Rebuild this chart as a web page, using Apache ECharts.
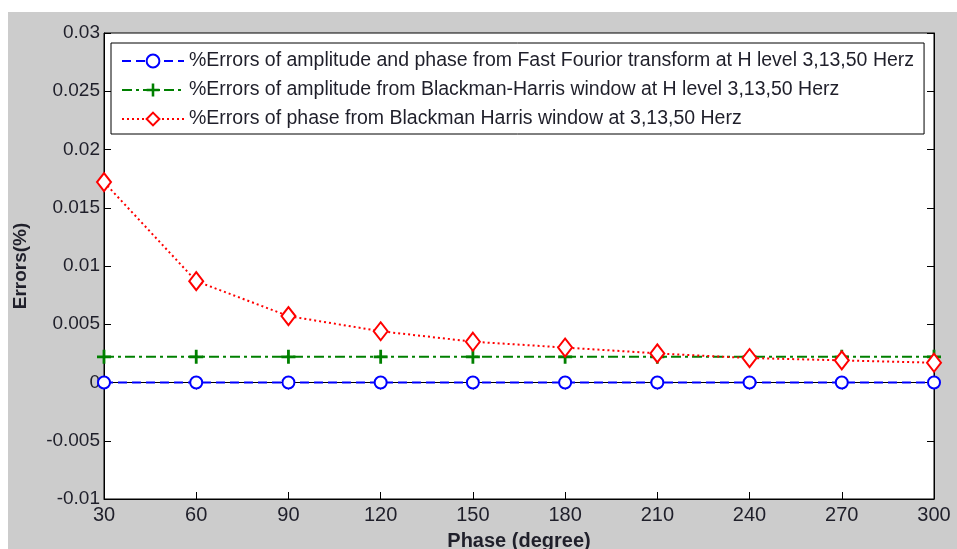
<!DOCTYPE html>
<html>
<head>
<meta charset="utf-8">
<script src="https://cdn.jsdelivr.net/npm/echarts@6/dist/echarts.min.js"></script>
<style>
  html, body { margin: 0; padding: 0; background: #fff; }
  #main { width: 957px; height: 549px; }
</style>
</head>
<body>
<div id="main"></div>
<script>
// 数据
const phases = [30, 60, 90, 120, 150, 180, 210, 240, 270, 300];
const fftErr = [0, 0, 0, 0, 0, 0, 0, 0, 0, 0];
const bhAmpErr = [0.0022, 0.0022, 0.0022, 0.0022, 0.0022, 0.0022, 0.0022, 0.0022, 0.0022, 0.0022];
const bhPhaseErr = [0.0172, 0.0087, 0.0057, 0.0044, 0.0035, 0.0030, 0.0025, 0.0021, 0.0019, 0.0017];
const names = [
  "%Errors of amplitude and phase from Fast Fourior transform at H level 3,13,50 Herz",
  "%Errors of amplitude from Blackman-Harris window at H level 3,13,50 Herz",
  "%Errors of phase from Blackman Harris window at 3,13,50 Herz"
];

const txt = "#1f1f2a";
const font = "'Liberation Sans', Arial, sans-serif";
const plus = "path://M4,0H6V4H10V6H6V10H4V6H0V4H4Z";

const pairs = (ys) => phases.map((x, i) => [x, ys[i]]);

const chart = echarts.init(document.getElementById("main"));

// 上、右两侧只画刻度
const tickOnly = {
  axisLine: { show: true, lineStyle: { color: "#000", width: 1 } },
  axisTick: { show: true, inside: true, length: 7, lineStyle: { color: "#000" } },
  axisLabel: { show: false },
  splitLine: { show: false }
};

chart.setOption({
  animation: false,
  textStyle: { fontFamily: font },
  graphic: [{
    type: "rect",
    z: -100,
    shape: { x: 8, y: 12, width: 949, height: 537 },
    style: { fill: "#cccccc" }
  }],
  grid: {
    left: 104, right: 23, top: 33, bottom: 50,
    outerBoundsMode: "none",
    containLabel: false,
    show: true, backgroundColor: "#fff", borderColor: "#000", borderWidth: 1
  },
  legend: {
    orient: "vertical",
    left: 111, top: 43,
    data: names,
    backgroundColor: "#fff",
    borderColor: "#000",
    borderWidth: 1,
    borderRadius: 0,
    padding: [8, 10, 5, 10],
    itemWidth: 62,
    itemHeight: 16,
    itemGap: 9,
    textStyle: { color: txt, fontSize: 19.5, fontFamily: font },
    selectedMode: false
  },
  xAxis: [{
    type: "value",
    min: 30, max: 300, interval: 30,
    name: "Phase (degree)",
    nameLocation: "middle",
    nameGap: 32,
    nameTextStyle: { color: txt, fontSize: 20, fontWeight: "bold" },
    axisLine: { show: true, onZero: false, lineStyle: { color: "#000", width: 1 } },
    axisTick: { show: true, inside: true, length: 7, lineStyle: { color: "#000" } },
    axisLabel: { color: txt, fontSize: 20, margin: 6 },
    splitLine: { show: false }
  }, Object.assign({
    type: "value", position: "top", min: 30, max: 300, interval: 30
  }, tickOnly)],
  yAxis: [{
    type: "value",
    min: -0.01, max: 0.03, interval: 0.005,
    name: "Errors(%)",
    nameLocation: "middle",
    nameGap: 74,
    nameTextStyle: { color: txt, fontSize: 19, fontWeight: "bold" },
    axisLine: { show: true, onZero: false, lineStyle: { color: "#000", width: 1 } },
    axisTick: { show: true, inside: true, length: 7, lineStyle: { color: "#000" } },
    axisLabel: { color: txt, fontSize: 19, margin: 4 },
    splitLine: { show: false }
  }, Object.assign({
    type: "value", position: "right", min: -0.01, max: 0.03, interval: 0.005
  }, tickOnly)],
  series: [{
    name: names[0],
    type: "line",
    data: pairs(fftErr),
    symbol: "emptyCircle",
    symbolSize: 12,
    lineStyle: { color: "#0000ff", width: 2, type: [9, 5] },
    itemStyle: { color: "#0000ff", borderColor: "#0000ff", borderWidth: 2 },
    z: 3
  }, {
    name: names[1],
    type: "line",
    data: pairs(bhAmpErr),
    symbol: plus,
    symbolSize: 14,
    lineStyle: { color: "#008000", width: 2, type: [10, 4, 3, 4] },
    itemStyle: { color: "#008000" },
    z: 2
  }, {
    name: names[2],
    type: "line",
    data: pairs(bhPhaseErr),
    symbol: "emptyDiamond",
    symbolSize: [14, 18],
    lineStyle: { color: "#ff0000", width: 2, type: [2, 3] },
    itemStyle: { color: "#ff0000", borderColor: "#ff0000", borderWidth: 2 },
    z: 4
  }]
});
</script>
</body>
</html>
